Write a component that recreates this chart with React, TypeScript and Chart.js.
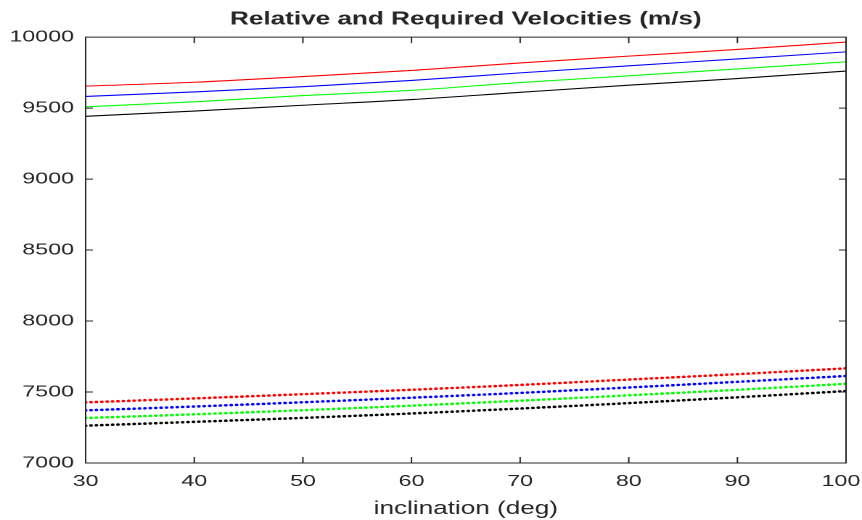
import { useEffect, useRef } from 'react';
import { Chart, registerables } from 'chart.js';

Chart.register(...registerables);

// ---- data ----
const inclination = [30, 40, 50, 60, 70, 80, 90, 100];

// solid curves
const solidRed = [9655, 9682, 9722, 9765, 9818, 9866, 9913, 9965];
const solidBlue = [9582, 9614, 9651, 9695, 9748, 9798, 9846, 9896];
const solidGreen = [9509, 9544, 9588, 9625, 9680, 9727, 9776, 9826];
const solidBlack = [9442, 9479, 9520, 9560, 9611, 9661, 9708, 9761];

// dotted curves
const dottedRed = [7427, 7455, 7485, 7516, 7550, 7588, 7626, 7667];
const dottedBlue = [7371, 7398, 7428, 7460, 7494, 7532, 7572, 7613];
const dottedGreen = [7317, 7343, 7372, 7404, 7439, 7477, 7516, 7558];
const dottedBlack = [7263, 7290, 7318, 7349, 7384, 7422, 7463, 7507];

const xTicks = [30, 40, 50, 60, 70, 80, 90, 100];
const yTicks = [7000, 7500, 8000, 8500, 9000, 9500, 10000];

const titleText = 'Relative and Required Velocities (m/s)';
const xLabel = 'inclination (deg)';

// ---- layout (the reference is horizontally stretched, so we render narrower and stretch) ----
const CSS_W = 862;
const CSS_H = 520;
const LOGICAL_W = 594;
const TEXT = '#262626';
const FONT = "'Liberation Sans', Arial, Helvetica, sans-serif";

const toPts = (ys: number[]) => ys.map((y, i) => ({ x: inclination[i], y }));

const boxPlugin = {
  id: 'matlabBox',
  beforeDraw(chart: any) {
    // keep the last x label inside the canvas
    const xs = chart.scales.x;
    if (xs && typeof xs.getLabelItems === 'function') {
      const items = xs.getLabelItems();
      const last = items[items.length - 1];
      if (last && last.options && last.options.translation) {
        last.options.translation = [last.options.translation[0] - 3.5, last.options.translation[1]];
      }
    }
  },
  afterDraw(chart: any) {
    const { ctx, chartArea, scales } = chart;
    const { left, right, top, bottom } = chartArea;
    const xs = scales.x;
    const ys = scales.y;
    ctx.save();
    ctx.strokeStyle = TEXT;
    ctx.lineWidth = 1;
    ctx.beginPath();
    ctx.rect(left, top, right - left, bottom - top);
    xs.ticks.forEach((t: any) => {
      const px = xs.getPixelForValue(t.value);
      ctx.moveTo(px, bottom);
      ctx.lineTo(px, bottom - 6);
      ctx.moveTo(px, top);
      ctx.lineTo(px, top + 6);
    });
    ys.ticks.forEach((t: any) => {
      const py = ys.getPixelForValue(t.value);
      ctx.moveTo(left, py);
      ctx.lineTo(left + 5, py);
      ctx.moveTo(right, py);
      ctx.lineTo(right - 5, py);
    });
    ctx.stroke();
    ctx.restore();
  },
};

const solid = (label: string, data: number[], color: string) => ({
  label,
  data: toPts(data),
  borderColor: color,
  backgroundColor: color,
  borderWidth: 1.1,
  pointRadius: 0,
  cubicInterpolationMode: 'monotone' as const,
  fill: false,
});

const dotted = (label: string, data: number[], color: string) => ({
  label,
  data: toPts(data),
  borderColor: color,
  backgroundColor: color,
  borderWidth: 2.6,
  borderDash: [0, 3.72],
  borderCapStyle: 'round' as const,
  pointRadius: 0,
  cubicInterpolationMode: 'monotone' as const,
  fill: false,
});

export default function App() {
  const ref = useRef<HTMLCanvasElement>(null);

  useEffect(() => {
    const canvas = ref.current;
    if (!canvas) return;
    const chart = new Chart(canvas, {
      type: 'line',
      data: {
        datasets: [
          solid('Red (solid)', solidRed, '#ff0000'),
          solid('Blue (solid)', solidBlue, '#0000ff'),
          solid('Green (solid)', solidGreen, '#00ff00'),
          solid('Black (solid)', solidBlack, '#000000'),
          dotted('Red (dotted)', dottedRed, '#ff0000'),
          dotted('Blue (dotted)', dottedBlue, '#0000ff'),
          dotted('Green (dotted)', dottedGreen, '#00ff00'),
          dotted('Black (dotted)', dottedBlack, '#000000'),
        ],
      },
      options: {
        responsive: false,
        animation: false,
        devicePixelRatio: 2,
        layout: { padding: { top: 0, right: 11, left: 0, bottom: 0 } },
        plugins: {
          legend: { display: false },
          tooltip: { enabled: false },
          title: {
            display: true,
            text: titleText,
            fullSize: false,
            color: TEXT,
            font: { family: FONT, size: 18, weight: 'bold' },
            padding: { top: 8.5, bottom: 7 },
          },
        },
        scales: {
          x: {
            type: 'linear',
            min: 30,
            max: 100,
            afterBuildTicks: (s: any) => {
              s.ticks = xTicks.map((v) => ({ value: v }));
            },
            afterFit: (s: any) => {
              s.height = 57;
              s.paddingLeft = 0;
              s.paddingRight = 0;
            },
            grid: { display: false, drawTicks: false },
            border: { display: false },
            ticks: {
              color: TEXT,
              font: { family: FONT, size: 16 },
              padding: 9,
              maxRotation: 0,
              autoSkip: false,
              callback: (v: any) => String(v),
            },
            title: {
              display: true,
              text: xLabel,
              color: TEXT,
              font: { family: FONT, size: 18 },
              padding: { top: 0, bottom: 0 },
            },
          },
          y: {
            type: 'linear',
            min: 7000,
            max: 10000,
            afterBuildTicks: (s: any) => {
              s.ticks = yTicks.map((v) => ({ value: v }));
            },
            afterFit: (s: any) => {
              s.width = 59;
              s.paddingTop = 0;
              s.paddingBottom = 0;
            },
            grid: { display: false, drawTicks: false },
            border: { display: false },
            ticks: {
              color: TEXT,
              font: { family: FONT, size: 16 },
              padding: 8,
              autoSkip: false,
              callback: (v: any) => String(v),
            },
          },
        },
      },
      plugins: [boxPlugin],
    } as any);
    return () => chart.destroy();
  }, []);

  return (
    <div style={{ position: 'fixed', left: 0, top: 0, width: CSS_W, height: CSS_H, background: '#fff' }}>
      <canvas
        ref={ref}
        width={LOGICAL_W}
        height={CSS_H}
        style={{ width: CSS_W + 'px', height: CSS_H + 'px', display: 'block' }}
      />
    </div>
  );
}
